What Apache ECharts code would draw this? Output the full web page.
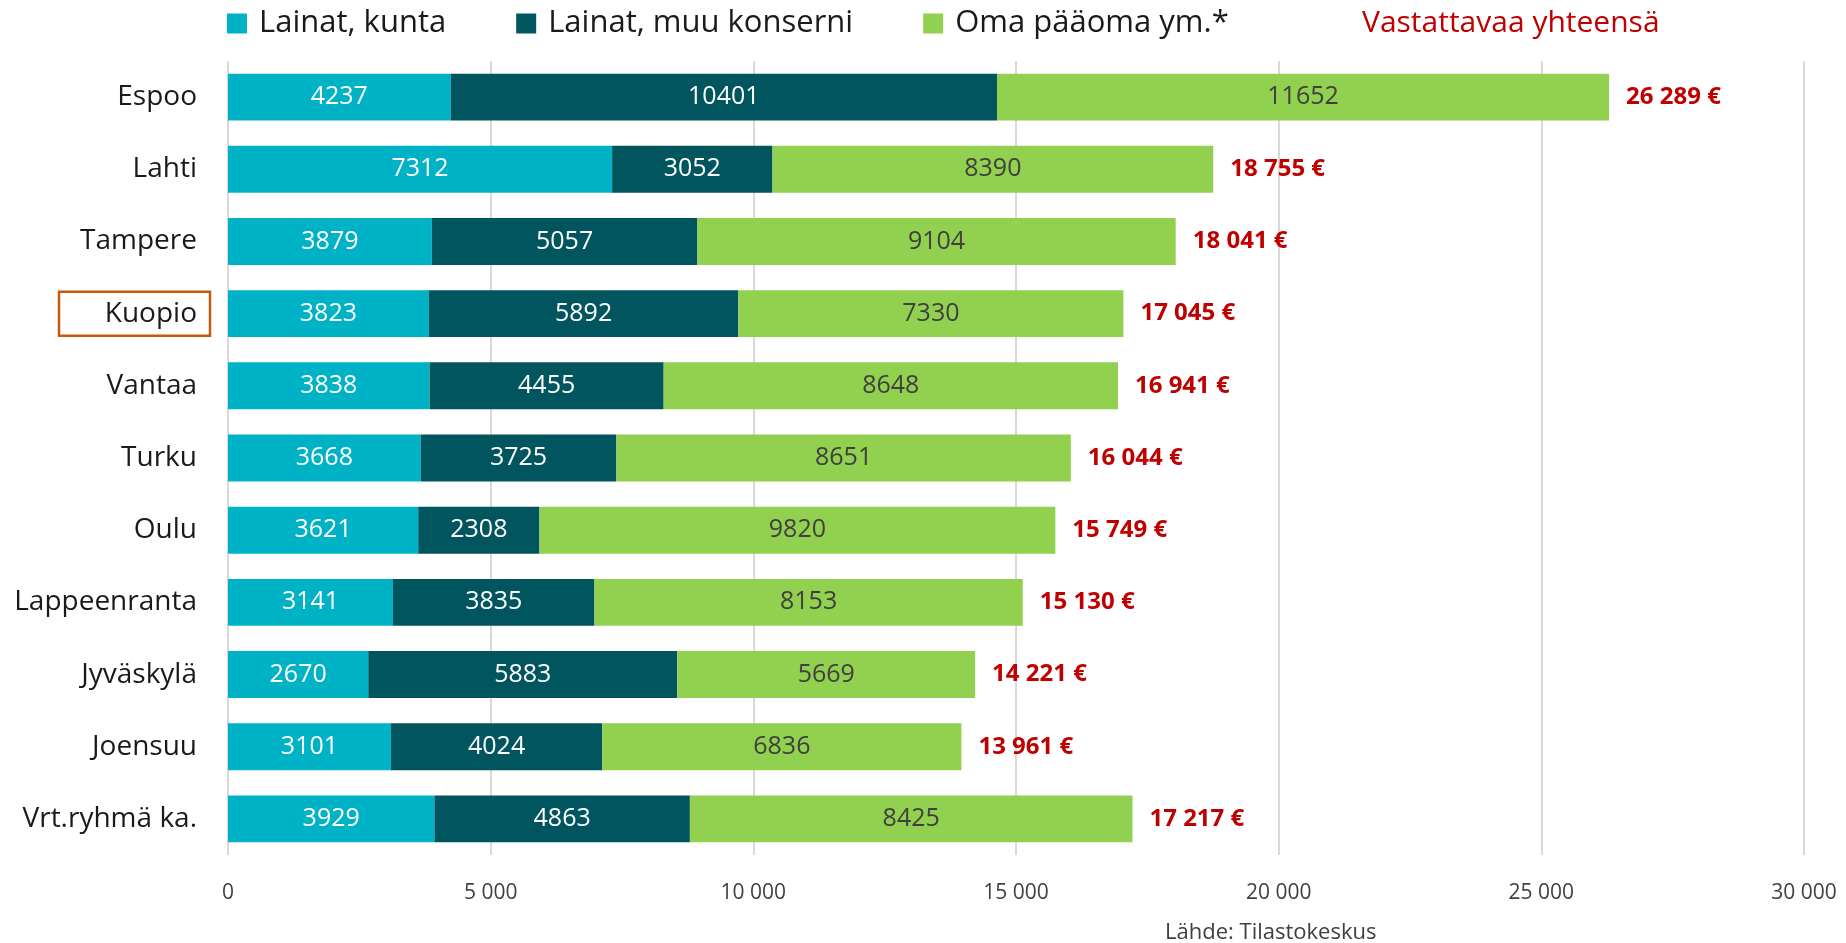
<!DOCTYPE html>
<html>
<head>
<meta charset="utf-8">
<script src="https://cdn.jsdelivr.net/npm/echarts@6/dist/echarts.min.js"></script>
<style>
html,body{margin:0;padding:0;background:#fff;}
#chart{width:1846px;height:943px;}
</style>
</head>
<body>
<div id="chart"></div>
<script>
var categories = ['Espoo','Lahti','Tampere','Kuopio','Vantaa','Turku','Oulu','Lappeenranta','Jyväskylä','Joensuu','Vrt.ryhmä ka.'];
var lainatKunta = [4237,7312,3879,3823,3838,3668,3621,3141,2670,3101,3929];
var lainatMuu = [10401,3052,5057,5892,4455,3725,2308,3835,5883,4024,4863];
var omaPaaoma = [11652,8390,9104,7330,8648,8651,9820,8153,5669,6836,8425];
var totals = [26289,18755,18041,17045,16941,16044,15749,15130,14221,13961,17217];
var xTicks = [0,5000,10000,15000,20000,25000,30000];
var highlighted = 'Kuopio';
var sourceText = 'Lähde: Tilastokeskus';

var FONT = '"Open Sans", "Noto Sans", sans-serif';
function fmt(v){ return String(v).replace(/\B(?=(\d{3})+(?!\d))/g, ' '); }

var chart = echarts.init(document.getElementById('chart'), null, {renderer:'canvas'});
var option = {
  backgroundColor:'#ffffff',
  animation:false,
  textStyle:{fontFamily:FONT},
  title:{
    text: sourceText, left:1160, top:917,
    textStyle:{fontFamily:FONT, fontSize:22, fontWeight:'normal', color:'#404040'}
  },
  legend:[{
    data:['Lainat, kunta','Lainat, muu konserni','Oma pääoma ym.*'],
    left:227, top:8, padding:0,
    itemWidth:20, itemHeight:20, itemGap:70,
    icon:'rect',
    textStyle:{fontFamily:FONT, fontSize:31, color:'#1a1a1a', padding:[0,0,0,7]},
    selectedMode:false
  },{
    data:[{name:'Vastattavaa yhteensä', icon:'none'}],
    left:1357, top:8, padding:0,
    itemWidth:0, itemHeight:20,
    textStyle:{fontFamily:FONT, fontSize:30, color:'#C00000'},
    selectedMode:false
  }],
  grid:{left:228, right:42, top:61, bottom:88, containLabel:false},
  xAxis:{
    type:'value', min:0, max:30000, interval:5000,
    axisLine:{show:false}, axisTick:{show:false},
    splitLine:{show:true, lineStyle:{color:'#d9d9d9', width:2}},
    axisLabel:{fontFamily:FONT, fontSize:21, color:'#404040', margin:28,
      formatter:function(v){ return xTicks.indexOf(v) >= 0 ? fmt(v) : ''; }}
  },
  yAxis:{
    type:'category', data:categories, inverse:true,
    axisLine:{show:false}, axisTick:{show:false},
    axisLabel:{
      margin:18,
      formatter:function(v){ return v === highlighted ? '{box|' + v + '}' : '{n|' + v + '}'; },
      rich:{
        n:{fontFamily:FONT, fontSize:28, color:'#1a1a1a', padding:[0,13,0,0]},
        box:{fontFamily:FONT, fontSize:28, color:'#1a1a1a', borderColor:'#C55A11', borderWidth:2.5,
             padding:[8,13,8,0], width:138, align:'right', lineHeight:30}
      }
    }
  },
  series:[{
    name:'Lainat, kunta', type:'bar', stack:'s', data:lainatKunta,
    barCategoryGap:'35%', barGap:'-100%',
    itemStyle:{color:'#00B2C6'},
    label:{show:true, position:'inside', color:'#ffffff', fontFamily:FONT, fontSize:25}
  },{
    name:'Lainat, muu konserni', type:'bar', stack:'s', data:lainatMuu,
    itemStyle:{color:'#00555F'},
    label:{show:true, position:'inside', color:'#ffffff', fontFamily:FONT, fontSize:25}
  },{
    name:'Oma pääoma ym.*', type:'bar', stack:'s', data:omaPaaoma,
    itemStyle:{color:'#92D050'},
    label:{show:true, position:'inside', color:'#404040', fontFamily:FONT, fontSize:25}
  },{
    name:'Vastattavaa yhteensä', type:'bar', data:totals, silent:true,
    barGap:'-100%', barCategoryGap:'35%', z:1,
    itemStyle:{color:'rgba(0,0,0,0)'},
    label:{show:true, position:'right', distance:17, color:'#C00000', fontFamily:FONT, fontSize:24, fontWeight:'bold',
      formatter:function(p){ return fmt(totals[p.dataIndex]) + ' €'; }}
  }]
};
chart.setOption(option);
</script>
</body>
</html>
